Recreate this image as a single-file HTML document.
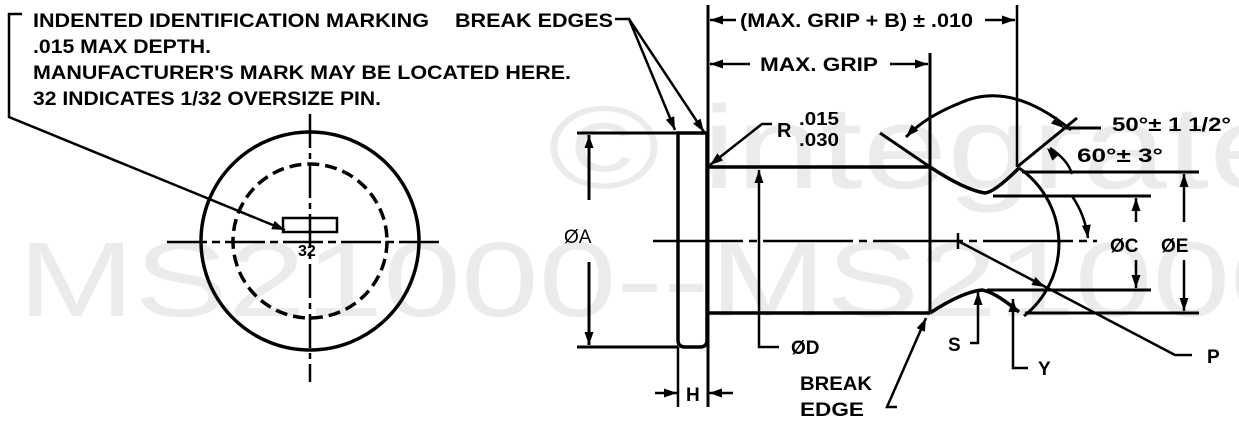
<!DOCTYPE html>
<html><head><meta charset="utf-8"><style>
html,body{margin:0;padding:0;background:#fff;}
svg{display:block;}
.t{font-family:"Liberation Sans",Arial,sans-serif;font-weight:bold;fill:#000;}
.wm{font-family:"Liberation Sans",Arial,sans-serif;fill:#ebebeb;}
</style></head><body>
<svg width="1239" height="437" viewBox="0 0 1239 437" xmlns="http://www.w3.org/2000/svg">
<defs>
<path id="h" d="M0,0 L-13,-4.5 L-13,4.5 Z" fill="#000"/>
</defs>
<text class="wm" x="548" y="188" font-size="118" textLength="830" lengthAdjust="spacingAndGlyphs">© integrated</text>
<text class="wm" x="18" y="316" font-size="106" textLength="1290" lengthAdjust="spacingAndGlyphs">MS21000--MS21000</text>

<g stroke="#000" fill="none" stroke-width="3">
<circle cx="310" cy="241" r="109" stroke-width="3.5"/>
<circle cx="310" cy="241" r="77" stroke-dasharray="12,6" stroke-width="3.5"/>
<line x1="310" y1="114" x2="310" y2="382" stroke-width="2.5" stroke-dasharray="34,5,6,5"/>
<line x1="167" y1="242" x2="440" y2="242" stroke-width="2.5" stroke-dasharray="40,5,8,5"/>
<rect x="283" y="218" width="54" height="14" stroke-width="2.5"/>
<polyline points="22,14 9,14 9,117 285,230" stroke-width="2.5"/>

<path d="M678,133 L707,133 L707,340 Q707,347 700,347 L685,347 Q678,347 678,340 Z" stroke-width="3.5"/>
<line x1="577" y1="133" x2="678" y2="133"/>
<line x1="577" y1="347" x2="678" y2="347"/>
<line x1="589" y1="200" x2="589" y2="135"/>
<line x1="589" y1="262" x2="589" y2="345"/>
<line x1="708" y1="5" x2="708" y2="407"/>
<line x1="678" y1="347" x2="678" y2="407" stroke-width="2.5"/>
<line x1="930" y1="53" x2="930" y2="313"/>
<line x1="1017" y1="5" x2="1017" y2="167" stroke-width="2.5"/>
<line x1="708" y1="167" x2="930" y2="167" stroke-width="3.5"/>
<line x1="708" y1="313" x2="930" y2="313" stroke-width="3.5"/>
<path d="M930,167 Q965,190 985,193 Q995,192 1019,168" stroke-width="3.5"/>
<path d="M930,313 Q962,292 982,290 Q995,292 1019,312" stroke-width="3.5"/>
<line x1="993" y1="196" x2="1151" y2="196"/>
<line x1="987" y1="290" x2="1151" y2="290"/>
<path d="M1019,168 A92,92 0 0 1 1024,316"/>
<line x1="653" y1="241" x2="1097" y2="241" stroke-width="2.5" stroke-dasharray="90,6,8,6"/>
<line x1="958" y1="233" x2="958" y2="249" stroke-width="2.5"/>

<line x1="736" y1="20" x2="710" y2="20" stroke-width="2.5"/>
<line x1="985" y1="20" x2="1015" y2="20" stroke-width="2.5"/>
<line x1="750" y1="64" x2="710" y2="64" stroke-width="2.5"/>
<line x1="890" y1="64" x2="928" y2="64" stroke-width="2.5"/>
<polyline points="615,19 629,19 675,130" stroke-width="2.5"/>
<line x1="629" y1="19" x2="704" y2="132" stroke-width="2.5"/>
<polyline points="772,124 762,124 710,165" stroke-width="2.5"/>
<path d="M1071,130 Q1010,80 960,103 Q925,117 906,137"/>
<line x1="880" y1="133" x2="930" y2="167"/>
<line x1="1017" y1="167" x2="1077" y2="118"/>
<line x1="1062" y1="128" x2="1101" y2="128"/>
<path d="M1050,148 Q1068,160 1072,174" stroke-width="2.5"/>
<path d="M1072,196 Q1085,215 1088,238" stroke-width="2.5"/>
<line x1="1022" y1="172" x2="1199" y2="172"/>
<line x1="1025" y1="313" x2="1199" y2="313"/>
<line x1="1184" y1="222" x2="1184" y2="174" stroke-width="2.5"/>
<line x1="1184" y1="260" x2="1184" y2="311" stroke-width="2.5"/>
<line x1="1136" y1="222" x2="1136" y2="198" stroke-width="2.5"/>
<line x1="1136" y1="260" x2="1136" y2="288" stroke-width="2.5"/>
<polyline points="779,347 759,347 759,170" stroke-width="2.5"/>
<line x1="655" y1="393" x2="677" y2="393" stroke-width="2.5"/>
<line x1="733" y1="393" x2="709" y2="393" stroke-width="2.5"/>
<polyline points="897,407 887,407 926,318" stroke-width="2.5"/>
<polyline points="970,343 978,343 978,292" stroke-width="2.5"/>
<polyline points="1028,368 1013,368 1013,299" stroke-width="2.5"/>
<polyline points="958,241 1175,355 1192,355" stroke-width="2.5"/>
</g>

<g>
<use href="#h" transform="translate(285,230) rotate(22.3)"/>
<use href="#h" transform="translate(589,135) rotate(-90)"/>
<use href="#h" transform="translate(589,345) rotate(90)"/>
<use href="#h" transform="translate(710,20) rotate(180)"/>
<use href="#h" transform="translate(1015,20) rotate(0)"/>
<use href="#h" transform="translate(710,64) rotate(180)"/>
<use href="#h" transform="translate(928,64) rotate(0)"/>
<use href="#h" transform="translate(675,130) rotate(67.5)"/>
<use href="#h" transform="translate(704,132) rotate(56.4)"/>
<use href="#h" transform="translate(710,165) rotate(141.7)"/>
<use href="#h" transform="translate(906,137) rotate(133.5)"/>
<use href="#h" transform="translate(1064,128) rotate(38)"/>
<use href="#h" transform="translate(1047,148) rotate(-132)"/>
<use href="#h" transform="translate(1088,238) rotate(82.6)"/>
<use href="#h" transform="translate(1184,174) rotate(-90)"/>
<use href="#h" transform="translate(1184,311) rotate(90)"/>
<use href="#h" transform="translate(1136,198) rotate(-90)"/>
<use href="#h" transform="translate(1136,288) rotate(90)"/>
<use href="#h" transform="translate(759,170) rotate(-90)"/>
<use href="#h" transform="translate(677,393) rotate(0)"/>
<use href="#h" transform="translate(709,393) rotate(180)"/>
<use href="#h" transform="translate(926,318) rotate(-66.3)"/>
<use href="#h" transform="translate(978,292) rotate(-90)"/>
<use href="#h" transform="translate(1013,299) rotate(-90)"/>
<use href="#h" transform="translate(1045,287) rotate(27.5)"/>
</g>

<g class="t" font-size="19">
<text x="33" y="27" textLength="396" lengthAdjust="spacingAndGlyphs">INDENTED IDENTIFICATION MARKING</text>
<text x="33" y="53" textLength="178" lengthAdjust="spacingAndGlyphs">.015 MAX DEPTH.</text>
<text x="33" y="79" textLength="538" lengthAdjust="spacingAndGlyphs">MANUFACTURER'S MARK MAY BE LOCATED HERE.</text>
<text x="33" y="105" textLength="348" lengthAdjust="spacingAndGlyphs">32 INDICATES 1/32 OVERSIZE PIN.</text>
<text x="455" y="27" textLength="158" lengthAdjust="spacingAndGlyphs">BREAK EDGES</text>
<text x="740" y="27" textLength="233" lengthAdjust="spacingAndGlyphs">(MAX. GRIP + B)  ± .010</text>
<text x="760" y="71" textLength="118" lengthAdjust="spacingAndGlyphs">MAX. GRIP</text>
<text x="777" y="137" font-size="20">R</text>
<text x="799" y="125" font-size="18" textLength="40" lengthAdjust="spacingAndGlyphs">.015</text>
<text x="799" y="146" font-size="18" textLength="40" lengthAdjust="spacingAndGlyphs">.030</text>
<text x="1112" y="131" font-size="19" textLength="119" lengthAdjust="spacingAndGlyphs">50°± 1 1/2°</text>
<text x="1077" y="162" font-size="19" textLength="86" lengthAdjust="spacingAndGlyphs">60°± 3°</text>
<text x="1110" y="252" font-size="19">ØC</text>
<text x="1161" y="252" font-size="19">ØE</text>
<text x="564" y="243" font-size="19" style="font-weight:normal">ØA</text>
<text x="791" y="354" font-size="19">ØD</text>
<text x="686" y="401" font-size="19">H</text>
<text x="800" y="390" font-size="19" textLength="72" lengthAdjust="spacingAndGlyphs">BREAK</text>
<text x="800" y="416" font-size="19" textLength="64" lengthAdjust="spacingAndGlyphs">EDGE</text>
<text x="948" y="351" font-size="19">S</text>
<text x="1038" y="375" font-size="19">Y</text>
<text x="1207" y="363" font-size="19">P</text>
<text x="298" y="256" font-size="16">32</text>
</g>
</svg>
</body></html>
